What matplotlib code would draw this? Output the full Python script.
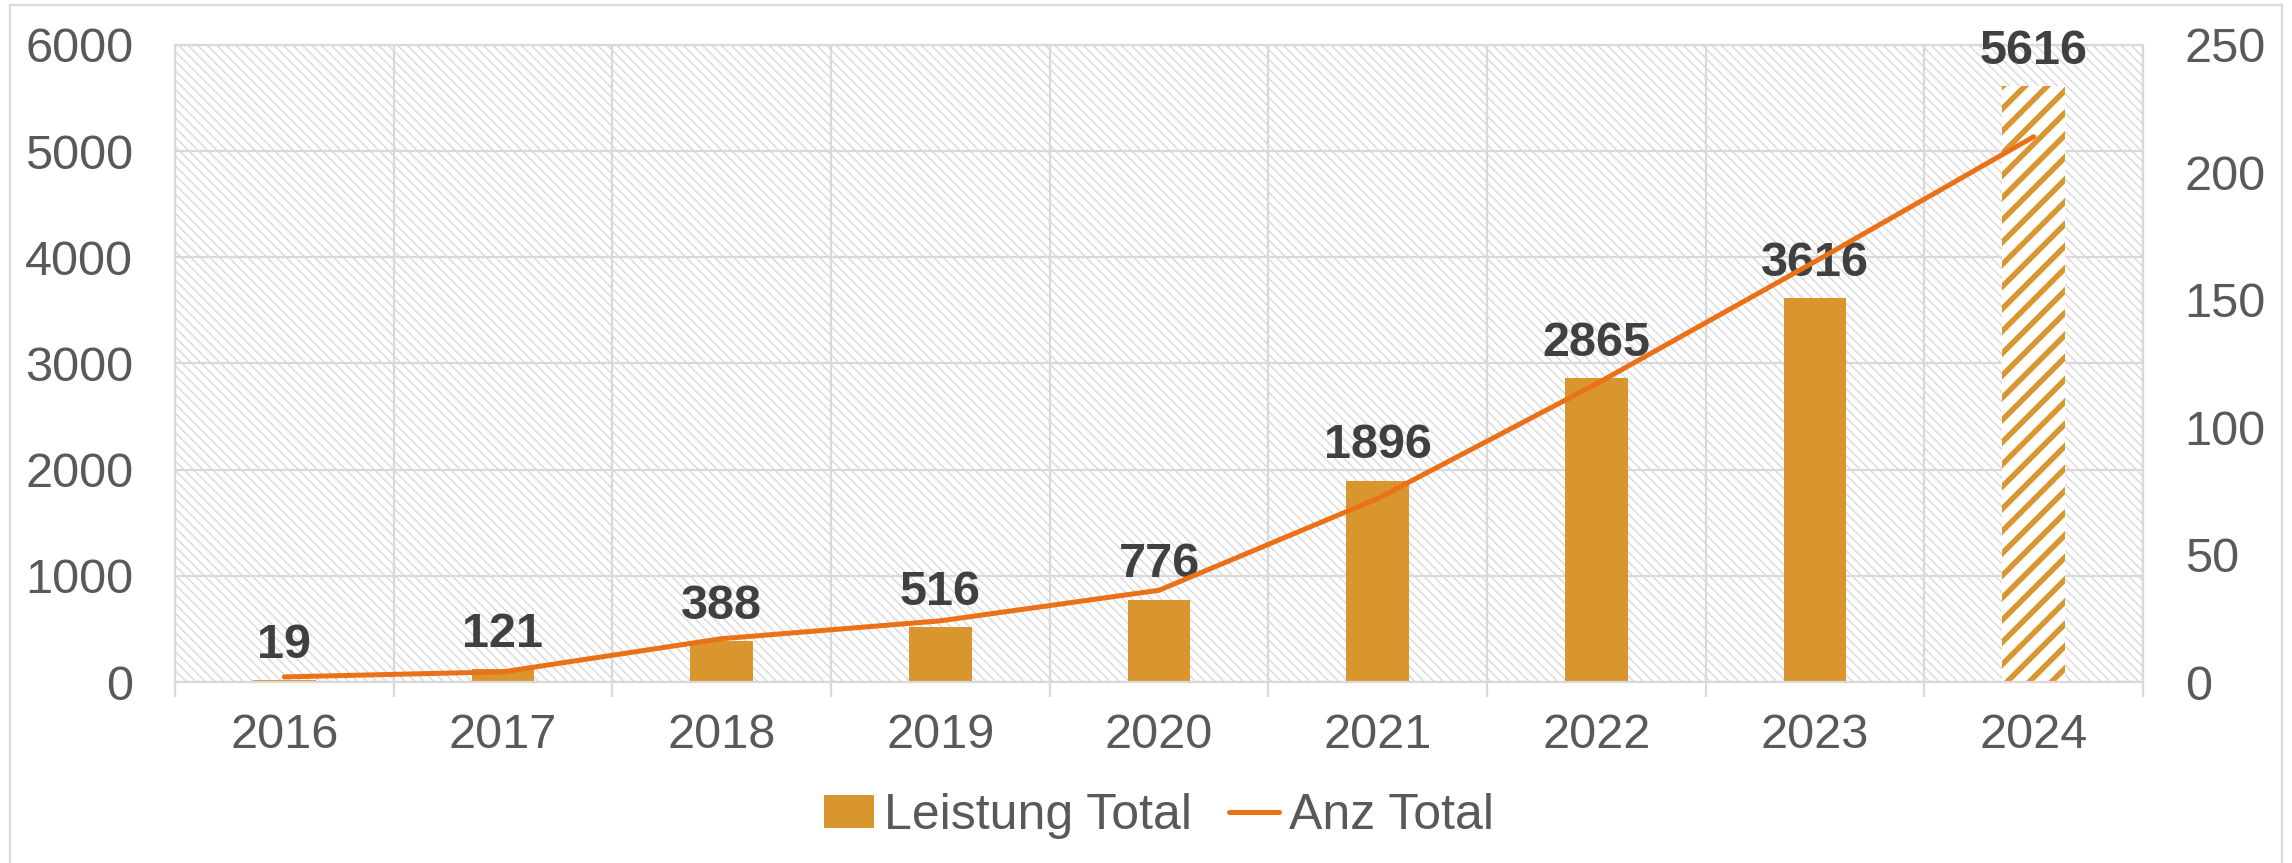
import matplotlib.pyplot as plt
from matplotlib.patches import Rectangle

# Daten
jahre = ['2016', '2017', '2018', '2019', '2020', '2021', '2022', '2023', '2024']
leistung_total = [19, 121, 388, 516, 776, 1896, 2865, 3616, 5616]
anz_total = [2, 4, 17, 24, 36, 72, 117, 165, 214]

bar_color = '#D9952E'
line_color = '#EA7117'
grid_color = '#D9D9D9'
tick_color = '#595959'
label_color = '#404040'

plt.rcParams['font.family'] = ['Liberation Sans', 'DejaVu Sans']

fig = plt.figure(figsize=(11.46, 4.315), dpi=200)
ax = fig.add_axes([0.07635, 0.20973, 0.93500 - 0.07635, 0.94786 - 0.20973])
ax2 = ax.twinx()

# Hintergrund schraffiert
plt.rcParams['hatch.linewidth'] = 0.5
bg = Rectangle((0, 0), 1, 1, transform=ax.transAxes, facecolor='white',
               edgecolor='#D8D8D8', hatch='\\' * 7, linewidth=0, zorder=0.1)
ax.add_patch(bg)

x = list(range(len(jahre)))
ax.bar(x[:-1], leistung_total[:-1], width=0.286, color=bar_color, zorder=2, label='Leistung Total')
plt.rcParams['hatch.linewidth'] = 2.0
last = ax.bar(x[-1:], leistung_total[-1:], width=0.286, facecolor='white', edgecolor=bar_color,
              hatch='///', linewidth=0, zorder=2)
for p in last:
    if hasattr(p, 'set_hatch_linewidth'):
        p.set_hatch_linewidth(2.0)
if hasattr(bg, 'set_hatch_linewidth'):
    bg.set_hatch_linewidth(0.5)
    plt.rcParams['hatch.linewidth'] = 0.5

for xi, v in zip(x, leistung_total):
    ax.annotate(str(v), (xi, v), xytext=(0, 8), textcoords='offset points', ha='center',
                va='baseline', fontsize=17.5, fontweight='bold', color=label_color, zorder=3)

ax.set_xlim(-0.5, len(jahre) - 0.5)
ax.set_ylim(0, 6000)
ax.set_yticks(range(0, 6001, 1000))
ax.set_xticks(x)
ax.set_xticklabels(jahre)
ax.set_xticks([i - 0.5 for i in range(len(jahre) + 1)], minor=True)
ax.set_axisbelow(True)
ax.grid(axis='y', color=grid_color, linewidth=0.8)
ax.grid(axis='x', which='minor', color=grid_color, linewidth=0.8)
ax.tick_params(axis='x', which='major', length=0, pad=11, labelsize=17.5, labelcolor=tick_color)
ax.tick_params(axis='x', which='minor', length=5.4, width=0.8, color=grid_color)
ax.tick_params(axis='y', length=0, pad=15, labelsize=17.5, labelcolor=tick_color)
for s in ax.spines.values():
    s.set_color(grid_color)
    s.set_linewidth(0.8)

# Anzahl (rechte Achse)
ax2.plot(x, anz_total, color=line_color, linewidth=1.8, label='Anz Total', solid_capstyle='round')
ax2.set_ylim(0, 250)
ax2.set_yticks(range(0, 251, 50))
ax2.tick_params(axis='y', length=0, pad=15, labelsize=17.5, labelcolor=tick_color)
for s in ax2.spines.values():
    s.set_visible(False)

h1, l1 = ax.get_legend_handles_labels()
h2, l2 = ax2.get_legend_handles_labels()
leg = fig.legend(h1 + h2, l1 + l2, loc='center', bbox_to_anchor=(0.5057, 0.0545), ncol=2,
                 frameon=False, fontsize=18, handlelength=1.0, handleheight=0.66,
                 handletextpad=0.2, columnspacing=0.75, borderpad=0)
for t in leg.get_texts():
    t.set_color(tick_color)

# Rahmen um die Grafik
fig.patches.append(Rectangle((10 / 2292, -0.05), (2282 - 10) / 2292, 1.05 - 5 / 863,
                             transform=fig.transFigure, facecolor='none', edgecolor=grid_color,
                             linewidth=0.8, zorder=-1))

fig.savefig('out.png', dpi=200, facecolor='white')
